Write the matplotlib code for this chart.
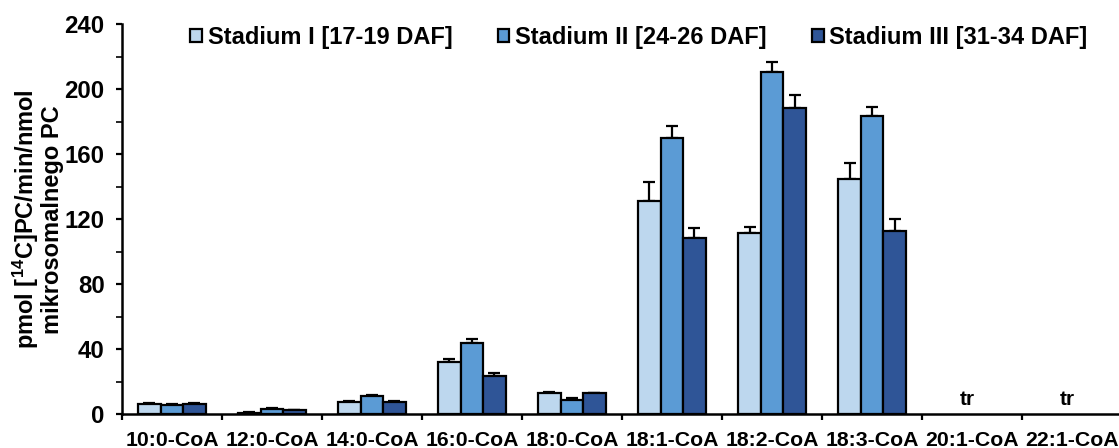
import numpy as np
import matplotlib
matplotlib.use("Agg")
import matplotlib.pyplot as plt
from matplotlib.ticker import MultipleLocator

plt.rcParams['font.family'] = ['Liberation Sans', 'DejaVu Sans']
plt.rcParams['font.weight'] = 'bold'
plt.rcParams['mathtext.fontset'] = 'custom'
plt.rcParams['mathtext.bf'] = 'Liberation Sans:bold'
plt.rcParams['mathtext.rm'] = 'Liberation Sans:bold'

substrates = ['10:0-CoA', '12:0-CoA', '14:0-CoA', '16:0-CoA', '18:0-CoA',
              '18:1-CoA', '18:2-CoA', '18:3-CoA', '20:1-CoA', '22:1-CoA']
series = ['Stadium I [17-19 DAF]', 'Stadium II [24-26 DAF]', 'Stadium III [31-34 DAF]']

# nan = trace amounts only ("tr")
stage1 = [6.5, 1.0, 7.5, 32.0, 13.0, 131.5, 111.8, 144.6, np.nan, np.nan]
stage2 = [6.0, 3.5, 11.0, 43.7, 8.8, 169.8, 210.6, 183.6, np.nan, np.nan]
stage3 = [6.2, 2.5, 7.5, 23.8, 12.9, 108.5, 188.3, 113.0, np.nan, np.nan]
err1 = [0.5, 0.3, 0.5, 2.0, 1.0, 11.5, 3.5, 10.0, np.nan, np.nan]
err2 = [0.5, 0.5, 1.0, 2.5, 1.0, 7.6, 6.2, 5.4, np.nan, np.nan]
err3 = [0.5, 0.3, 0.8, 1.6, 0.5, 6.1, 8.2, 7.4, np.nan, np.nan]
trace_label = 'tr'

colors = ['#BDD7EE', '#5B9BD5', '#2F5597']

fig = plt.figure(figsize=(11.19, 4.48), dpi=100)
ax = fig.add_axes([0.109, 0.0752, 0.8937, 0.8706])

x = np.arange(len(substrates))
w = 0.225
for i, (vals, errs) in enumerate([(stage1, err1), (stage2, err2), (stage3, err3)]):
    pos = x + (i - 1) * w
    ax.bar(pos, vals, w, color=colors[i], edgecolor='black', linewidth=1.6,
           label=series[i], zorder=2)
    errs = np.array(errs)
    ax.errorbar(pos, vals, yerr=[np.zeros_like(errs), errs], fmt='none',
                ecolor='black', elinewidth=1.6, capsize=4, capthick=1.6, zorder=1)

for i, v in enumerate(stage1):
    if np.isnan(v):
        ax.text(x[i] - 0.05, 3, trace_label, ha='center', va='bottom',
                fontsize=15, fontweight='bold')

ax.set_xlim(-0.5, len(substrates) - 0.5)
ax.set_ylim(0, 240)
ax.yaxis.set_major_locator(MultipleLocator(40))
ax.yaxis.set_minor_locator(MultipleLocator(20))
ax.set_xticks(x)
ax.set_xticklabels(substrates, fontsize=15.3, fontweight='bold')
ax.set_xticks(np.arange(len(substrates) + 1) - 0.5, minor=True)
ax.tick_params(axis='x', which='major', length=0, pad=12)
ax.tick_params(axis='x', which='minor', length=4.5, width=1.6, direction='out')
ax.tick_params(axis='y', which='major', length=4.5, width=1.6, labelsize=17.3, pad=8)
ax.tick_params(axis='y', which='minor', length=4.5, width=1.2)
for lbl in ax.get_yticklabels():
    lbl.set_fontweight('bold')

for s in ['top', 'right']:
    ax.spines[s].set_visible(False)
for s in ['left', 'bottom']:
    ax.spines[s].set_linewidth(1.8)

ax.set_ylabel('pmol [$\\mathbf{^{14}}$C]PC/min/nmol\nmikrosomalnego PC',
              fontsize=17, fontweight='bold', linespacing=1.0)
ax.yaxis.set_label_coords(-0.058, 0.5)

leg = ax.legend(loc='upper left', bbox_to_anchor=(0.047, 1.05), ncol=3,
                frameon=False, handlelength=0.5, handleheight=0.5,
                handletextpad=0.25, columnspacing=1.9,
                prop={'weight': 'bold', 'size': 17})

plt.savefig('out.png', dpi=100)
